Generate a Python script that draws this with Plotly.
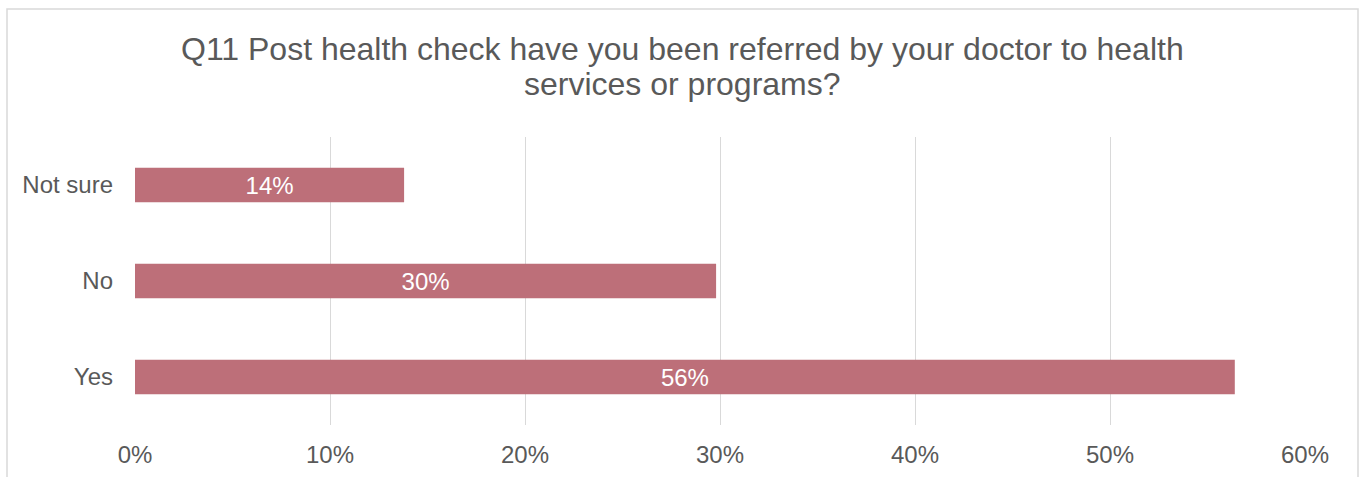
import plotly.graph_objects as go

# Survey responses (share of respondents)
categories = ["Yes", "No", "Not sure"]
shares = [0.564, 0.298, 0.138]
x_ticks = [0, 0.1, 0.2, 0.3, 0.4, 0.5, 0.6]

title_line1 = "Q11 Post health check have you been referred by your doctor to health"
title_line2 = "services or programs?"

W, H = 1364, 477
ML, MR, MT, MB = 135, 59, 137, 52
plot_w = W - ML - MR
plot_h = H - MT - MB


def px_to_paper_x(px):
    return (px - ML) / plot_w


def px_to_paper_y(py):
    return (H - MB - py) / plot_h


text_grey = "#595959"
font_family = "Liberation Sans, Arial, sans-serif"

fig = go.Figure(
    go.Bar(
        x=shares,
        y=categories,
        orientation="h",
        width=0.36,
        marker=dict(color="#BD6F79", line=dict(width=0)),
        texttemplate="%{x:.0%}",
        textposition="inside",
        insidetextanchor="middle",
        textfont=dict(color="white", size=24, family=font_family),
        hoverinfo="skip",
    )
)

fig.update_layout(
    width=W,
    height=H,
    margin=dict(l=ML, r=MR, t=MT, b=MB, pad=0, autoexpand=False),
    paper_bgcolor="white",
    plot_bgcolor="white",
    showlegend=False,
    font=dict(family=font_family, color=text_grey, size=24),
    xaxis=dict(
        range=[0, 0.6],
        tickvals=x_ticks,
        tickformat=".0%",
        showgrid=True,
        gridcolor="#D9D9D9",
        gridwidth=1,
        zeroline=False,
        showline=False,
        ticks="",
        automargin=False,
        ticklabelstandoff=13,
        tickfont=dict(size=24, color=text_grey),
        fixedrange=True,
    ),
    yaxis=dict(
        categoryorder="array",
        categoryarray=categories,
        showgrid=False,
        zeroline=False,
        showline=False,
        ticks="",
        automargin=False,
        ticklabelstandoff=21,
        tickfont=dict(size=24, color=text_grey),
        fixedrange=True,
    ),
    annotations=[
        dict(
            text=title_line1,
            x=px_to_paper_x(682), xref="paper", xanchor="center",
            y=px_to_paper_y(49), yref="paper", yanchor="middle",
            showarrow=False,
            font=dict(size=32, color=text_grey, family=font_family),
        ),
        dict(
            text=title_line2,
            x=px_to_paper_x(682), xref="paper", xanchor="center",
            y=px_to_paper_y(84), yref="paper", yanchor="middle",
            showarrow=False,
            font=dict(size=32, color=text_grey, family=font_family),
        ),
    ],
    shapes=[
        dict(
            type="rect",
            xref="paper", yref="paper",
            x0=px_to_paper_x(7), x1=px_to_paper_x(1358),
            y0=px_to_paper_y(500), y1=px_to_paper_y(9),
            line=dict(color="#D9D9D9", width=1.5),
            fillcolor="rgba(0,0,0,0)",
            layer="below",
        )
    ],
)

fig.write_html("out.html")
